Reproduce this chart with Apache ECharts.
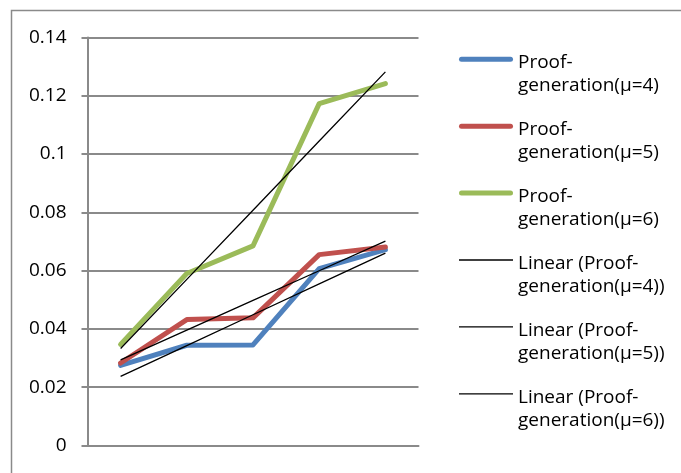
<!DOCTYPE html>
<html>
<head>
<meta charset="utf-8">
<script src="https://cdn.jsdelivr.net/npm/echarts@6/dist/echarts.min.js"></script>
<style>
  html, body { margin: 0; padding: 0; background: #fff; }
  #chart { width: 681px; height: 473px; }
</style>
</head>
<body>
<div id="chart"></div>
<script>
// Five measurement points per configuration (axis labels hidden)
const categories = ['1', '2', '3', '4', '5'];

// Proof-generation time for each μ
const proofMu4 = [0.0275, 0.0344, 0.0345, 0.0607, 0.0672];
const proofMu5 = [0.0283, 0.0432, 0.0438, 0.0655, 0.0681];
const proofMu6 = [0.0347, 0.0590, 0.0685, 0.1173, 0.1242];

const seriesNames = ['Proof-generation(μ=4)', 'Proof-generation(μ=5)', 'Proof-generation(μ=6)'];
const seriesColors = ['#4F81BD', '#C0504D', '#9BBB59'];

// Least-squares linear trend evaluated at each category position
function linearTrend(values) {
  const n = values.length;
  const xs = values.map((_, i) => i + 1);
  const mx = xs.reduce((a, b) => a + b, 0) / n;
  const my = values.reduce((a, b) => a + b, 0) / n;
  let sxy = 0, sxx = 0;
  for (let i = 0; i < n; i++) {
    sxy += (xs[i] - mx) * (values[i] - my);
    sxx += (xs[i] - mx) * (xs[i] - mx);
  }
  const slope = sxy / sxx;
  return xs.map(x => my + slope * (x - mx));
}

const dataSets = [proofMu4, proofMu5, proofMu6];
const FONT = '"Open Sans", sans-serif';
const GRAY = '#8a8a8a';

// Legend swatches: thick round-ended bar for data lines, hairline for trends
const THICK_ICON = 'path://M2.5,0 H51.5 A2.5,2.5 0 0 1 51.5,5 H2.5 A2.5,2.5 0 0 1 2.5,0 Z';
const THIN_ICON = 'path://M0,0 H54 V1.3 H0 Z';

const series = [];
const legendItems = [];
dataSets.forEach((d, i) => {
  series.push({
    name: seriesNames[i],
    type: 'line',
    data: d,
    symbol: 'none',
    color: seriesColors[i],
    lineStyle: { width: 5, color: seriesColors[i], cap: 'round', join: 'round' },
    z: 2
  });
  legendItems.push({ name: seriesNames[i], icon: THICK_ICON, itemStyle: { color: seriesColors[i] } });
});
dataSets.forEach((d, i) => {
  const name = 'Linear (' + seriesNames[i] + ')';
  series.push({
    name: name,
    type: 'line',
    data: linearTrend(d),
    symbol: 'none',
    color: '#000',
    lineStyle: { width: 1.3, color: '#000' },
    z: 3
  });
  legendItems.push({ name: name, icon: THIN_ICON, itemStyle: { color: '#000' } });
});

const chart = echarts.init(document.getElementById('chart'), null, { renderer: 'canvas' });
chart.setOption({
  animation: false,
  backgroundColor: '#fff',
  graphic: [{
    type: 'rect',
    shape: { x: 11.5, y: 10.5, width: 800, height: 600 },
    style: { fill: 'none', stroke: GRAY, lineWidth: 1.5 },
    silent: true,
    z: -10
  }],
  grid: { left: 87.5, top: 37.5, right: 262.5, bottom: 27.5, containLabel: false },
  legend: {
    orient: 'vertical',
    left: 459,
    top: 21.3,
    padding: 0,
    itemWidth: 54,
    itemHeight: 5,
    itemGap: -9.1,
    itemStyle: { borderWidth: 0 },
    data: legendItems,
    formatter: name => '{gap| }\n' + name.replace('Proof-', 'Proof-\n'),
    textStyle: {
      fontFamily: FONT,
      fontSize: 19,
      color: '#000',
      lineHeight: 23,
      rich: { gap: { lineHeight: 30, fontSize: 19 } }
    }
  },
  xAxis: {
    type: 'category',
    data: categories,
    boundaryGap: true,
    axisLine: { show: true, lineStyle: { color: GRAY, width: 2 } },
    axisTick: { show: false },
    axisLabel: { show: false },
    splitLine: { show: false }
  },
  yAxis: {
    type: 'value',
    min: 0,
    max: 0.14,
    interval: 0.02,
    axisLine: { show: true, lineStyle: { color: GRAY, width: 2 } },
    axisTick: { show: true, length: 6, lineStyle: { color: GRAY, width: 2 } },
    axisLabel: {
      margin: 21,
      fontFamily: FONT,
      fontSize: 19,
      color: '#000',
      formatter: v => String(+v.toFixed(2))
    },
    splitLine: { show: true, lineStyle: { color: GRAY, width: 2 } }
  },
  series: series
});
</script>
</body>
</html>
